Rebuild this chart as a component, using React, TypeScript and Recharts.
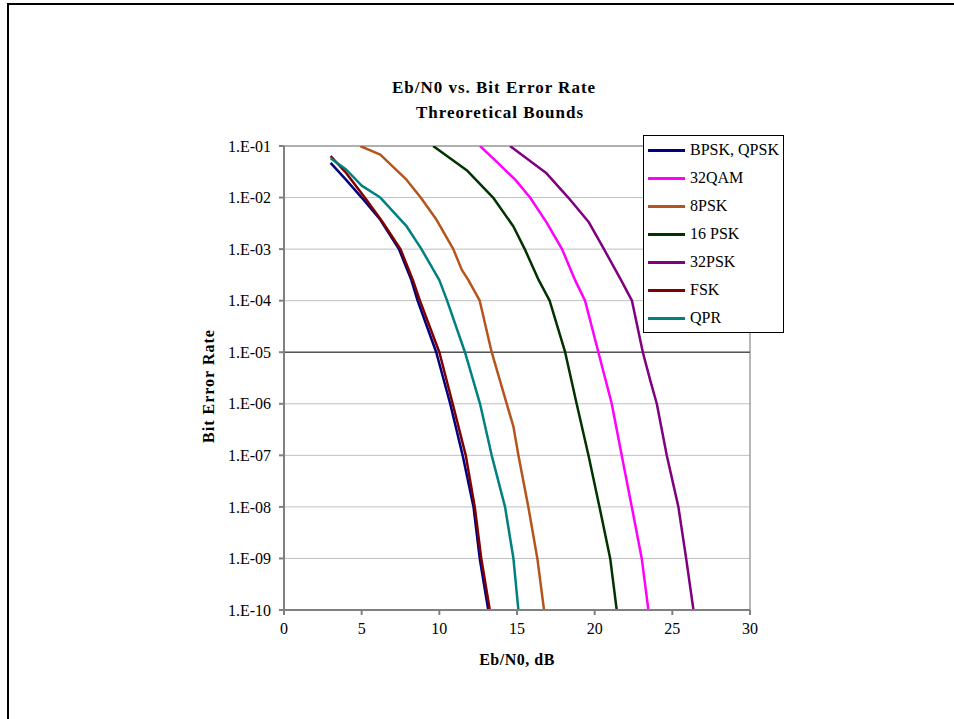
import {
  LineChart,
  Line,
  XAxis,
  YAxis,
  CartesianGrid,
  ReferenceLine,
  Legend,
} from "recharts";

// values: Eb/N0 in dB, bit error rate
const bpskX = [3, 4, 5, 6.2, 7.4, 8.2, 8.6, 9.8, 10.7, 11.5, 12.2, 12.6, 13.15];
const bpskBer = [4.7e-2, 2.2e-2, 1e-2, 3.7e-3, 1e-3, 2.5e-4, 1e-4, 1e-5, 1e-6, 1e-7, 1e-8, 1e-9, 1e-10];

const qam32X = [12.62, 13.8, 14.9, 15.84, 16.9, 17.9, 18.74, 19.38, 20.24, 21.1, 21.74, 22.39, 23.03, 23.46];
const qam32Ber = [1e-1, 4.6e-2, 2.2e-2, 1e-2, 3.3e-3, 1e-3, 2.5e-4, 1e-4, 1e-5, 1e-6, 1e-7, 1e-8, 1e-9, 1e-10];

const psk8X = [4.9, 6.2, 7.9, 8.8, 9.82, 10.9, 11.44, 11.87, 12.6, 13.37, 14.34, 14.77, 15.09, 15.73, 16.31, 16.74];
const psk8Ber = [1e-1, 6.8e-2, 2.2e-2, 1e-2, 3.7e-3, 1e-3, 4e-4, 2.5e-4, 1e-4, 1e-5, 1e-6, 3.6e-7, 1e-7, 1e-8, 1e-9, 1e-10];

const psk16X = [9.6, 11.76, 13.46, 14.77, 15.5, 16.4, 17.1, 18.1, 18.84, 19.6, 20.31, 21.0, 21.42];
const psk16Ber = [1e-1, 3.4e-2, 1e-2, 2.75e-3, 1e-3, 2.5e-4, 1e-4, 1e-5, 1e-6, 1e-7, 1e-8, 1e-9, 1e-10];

const psk32X = [14.55, 16.9, 18.3, 19.6, 20.6, 21.7, 22.4, 23.1, 23.57, 24.0, 24.64, 25.39, 25.89, 26.36];
const psk32Ber = [1e-1, 2.95e-2, 1e-2, 3.4e-3, 1e-3, 2.5e-4, 1e-4, 1e-5, 2.9e-6, 1e-6, 1e-7, 1e-8, 1e-9, 1e-10];

const fskX = [3, 4, 5.2, 6.3, 7.5, 8.3, 8.75, 10.0, 10.86, 11.7, 12.28, 12.7, 13.25];
const fskBer = [6.4e-2, 3.0e-2, 1e-2, 3.5e-3, 1e-3, 2.5e-4, 1e-4, 1e-5, 1e-6, 1e-7, 1e-8, 1e-9, 1e-10];

const qprX = [3, 4, 5, 6.2, 7.9, 8.85, 10.0, 10.5, 11.65, 12.62, 13.37, 14.23, 14.77, 15.09];
const qprBer = [5.8e-2, 3.5e-2, 1.7e-2, 1e-2, 2.75e-3, 1e-3, 2.5e-4, 1e-4, 1e-5, 1e-6, 1e-7, 1e-8, 1e-9, 1e-10];

const xTicks = [0, 5, 10, 15, 20, 25, 30];
const yTicks = [1e-1, 1e-2, 1e-3, 1e-4, 1e-5, 1e-6, 1e-7, 1e-8, 1e-9, 1e-10];

const toPoints = (xs: number[], ys: number[]) => xs.map((x, i) => ({ x, ber: ys[i] }));

const series = [
  { name: "BPSK, QPSK", color: "#000080", data: toPoints(bpskX, bpskBer) },
  { name: "32QAM", color: "#ff00ff", data: toPoints(qam32X, qam32Ber) },
  { name: "8PSK", color: "#b5541c", data: toPoints(psk8X, psk8Ber) },
  { name: "16 PSK", color: "#003300", data: toPoints(psk16X, psk16Ber) },
  { name: "32PSK", color: "#800080", data: toPoints(psk32X, psk32Ber) },
  { name: "FSK", color: "#800000", data: toPoints(fskX, fskBer) },
  { name: "QPR", color: "#008080", data: toPoints(qprX, qprBer) },
];

const serif = "Liberation Serif, DejaVu Serif, serif";

const formatBer = (v: number) => {
  const exp = Math.round(-Math.log10(v));
  return "1.E-" + String(exp).padStart(2, "0");
};

function LegendBox() {
  return (
    <div
      style={{
        width: 139,
        height: 196,
        border: "1px solid #000",
        background: "#fff",
        fontFamily: serif,
        fontSize: 16,
        color: "#000",
      }}
    >
      {series.map((s) => (
        <div key={s.name} style={{ display: "flex", alignItems: "center", height: 28 }}>
          <div style={{ width: 37, height: 3, background: s.color, marginLeft: 4, marginRight: 5 }} />
          <span>{s.name}</span>
        </div>
      ))}
    </div>
  );
}

const titleStyle = {
  position: "absolute" as const,
  left: 0,
  textAlign: "center" as const,
  fontFamily: serif,
  fontWeight: "bold",
  fontSize: 17,
  letterSpacing: 1,
};

export default function App() {
  return (
    <div style={{ position: "fixed", left: 0, top: 0, width: 954, height: 719, background: "#fff", overflow: "hidden" }}>
      <div
        style={{
          position: "absolute",
          left: 7,
          top: 3,
          width: 1000,
          height: 800,
          borderLeft: "2px solid #000",
          borderTop: "2px solid #000",
        }}
      />
      <div style={{ ...titleStyle, width: 988, top: 78 }}>Eb/N0 vs. Bit Error Rate</div>
      <div style={{ ...titleStyle, width: 1000, top: 103 }}>Threoretical Bounds</div>
      <div style={{ ...titleStyle, width: 1034, top: 651, fontSize: 16, letterSpacing: 0.5 }}>Eb/N0, dB</div>
      <div
        style={{
          position: "absolute",
          left: 209,
          top: 386,
          transform: "translate(-50%, -50%) rotate(-90deg)",
          whiteSpace: "nowrap",
          fontFamily: serif,
          fontWeight: "bold",
          fontSize: 16,
          letterSpacing: 1,
        }}
      >
        Bit Error Rate
      </div>
      <div style={{ position: "absolute", left: 0, top: 0 }}>
        <LineChart width={954} height={719} margin={{ top: 146, right: 204, bottom: 79, left: 204 }}>
          <CartesianGrid vertical={false} stroke="#c0c0c0" strokeWidth={1} />
          <XAxis
            type="number"
            dataKey="x"
            domain={[0, 30]}
            ticks={xTicks}
            height={30}
            allowDataOverflow
            stroke="#808080"
            strokeWidth={2}
            tickSize={5}
            tickMargin={8}
            tick={{ fill: "#000", fontSize: 16, fontFamily: serif }}
          />
          <YAxis
            type="number"
            scale="log"
            dataKey="ber"
            domain={[1e-10, 1e-1]}
            ticks={yTicks}
            allowDataOverflow
            width={80}
            stroke="#808080"
            strokeWidth={2}
            tickSize={5}
            tickMargin={8}
            tickFormatter={formatBer}
            tick={{ fill: "#000", fontSize: 16, fontFamily: serif }}
          />
          <ReferenceLine y={1e-1} stroke="#a0a0a0" strokeWidth={1.5} />
          <ReferenceLine x={30} stroke="#a0a0a0" strokeWidth={1.5} />
          <ReferenceLine y={1e-5} stroke="#555" strokeWidth={1.5} />
          {series.map((s) => (
            <Line
              key={s.name}
              data={s.data}
              dataKey="ber"
              name={s.name}
              stroke={s.color}
              strokeWidth={2.5}
              strokeLinejoin="round"
              dot={false}
              type="linear"
              isAnimationActive={false}
            />
          ))}
          <Legend
            layout="vertical"
            align="center"
            verticalAlign="middle"
            wrapperStyle={{ left: 643, top: 135, width: 141 }}
            content={() => <LegendBox />}
          />
        </LineChart>
      </div>
    </div>
  );
}
